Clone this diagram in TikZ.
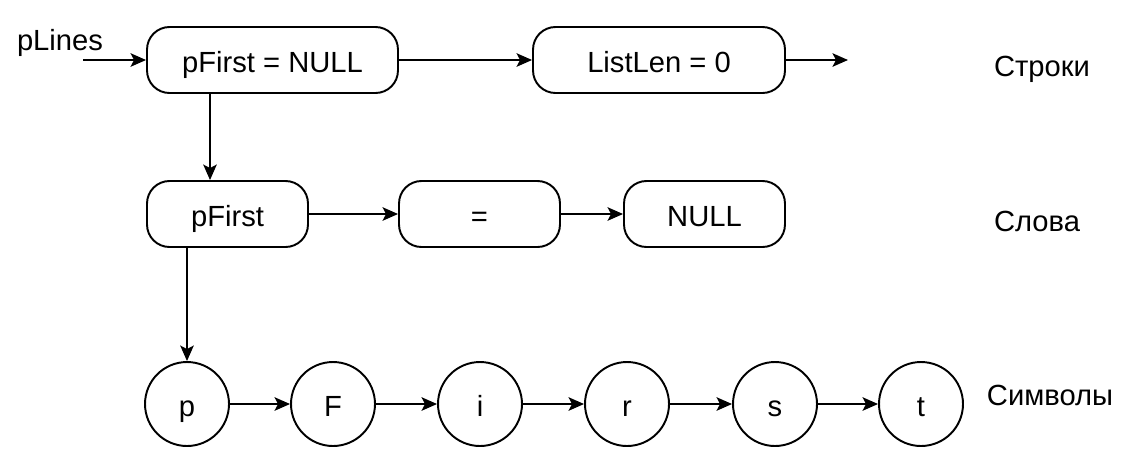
\documentclass[tikz,border=0pt]{standalone}
\usepackage{fontspec}
\setmainfont{Liberation Sans}
\usetikzlibrary{positioning}
\usetikzlibrary{arrows.meta}

\begin{document}
\begin{tikzpicture}[x=0.02cm, y=-0.02cm, line width=1.1pt,
    every node/.style={font=\fontsize{16.6}{20}\selectfont, text height=11.9pt, text depth=0pt},
    box/.style={draw, rounded corners=0.45cm, minimum height=1.32cm, inner sep=0pt, text height=14.7pt},
    sym/.style={draw, circle, minimum size=1.68cm, inner sep=0pt, text height=14.7pt},
    arr/.style={-{Stealth[length=0.31cm, width=0.27cm, inset=0.07cm]}}]
            \useasboundingbox (0,0) rectangle (1133,468);
            % Nodos
            \node (plines) at (60,40) {pLines};
            \coordinate (in) at (83,60);
            \node[box, minimum width=5.02cm] (lines) at (272.5,60) {pFirst = NULL};
            \node[box, minimum width=5.04cm] (len) at (659,60) {ListLen = 0};
            \coordinate (out) at (848,60);
            \node[box, minimum width=3.22cm] (w1) at (227.5,214) {pFirst};
            \node[box, minimum width=3.22cm] (w2) at (479.5,214) {=};
            \node[box, minimum width=3.22cm] (w3) at (704.5,214) {NULL};
            \node[sym] (c1) at (187,404) {p};
            \node[sym] (c2) at (333,404) {F};
            \node[sym] (c3) at (480,404) {i};
            \node[sym] (c4) at (627,404) {r};
            \node[sym] (c5) at (775,404) {s};
            \node[sym] (c6) at (921,404) {t};
            \node (rows) at (1042,66.5) {Строки};
            \node (words) at (1037,221.5) {Слова};
            \node (chars) at (1050,395.5) {Символы};

            % Aristas
            \draw[arr] (in) -- (lines.west);
            \draw[arr] (lines) -- (len);
            \draw[arr] (len) -- (out);
            \draw[arr] ([xshift=-1.25cm]lines.south) -- ([xshift=-0.35cm]w1.north);
            \draw[arr] (w1) -- (w2);
            \draw[arr] (w2) -- (w3);
            \draw[arr] (w1.south -| c1.north) -- (c1.north);
            \draw[arr] (c1) -- (c2);
            \draw[arr] (c2) -- (c3);
            \draw[arr] (c3) -- (c4);
            \draw[arr] (c4) -- (c5);
            \draw[arr] (c5) -- (c6);
          \end{tikzpicture}
\end{document}
